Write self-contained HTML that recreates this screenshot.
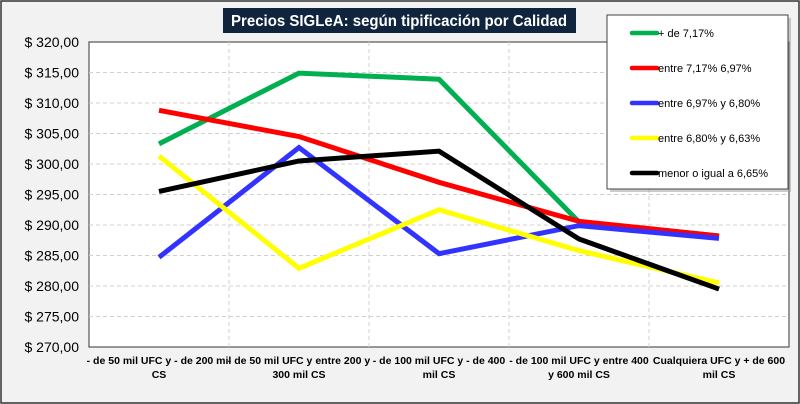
<!DOCTYPE html>
<html><head><meta charset="utf-8"><style>
body{margin:0;width:800px;height:404px;overflow:hidden;background:#fff}
svg{display:block;font-family:"Liberation Sans",sans-serif}
</style></head><body>
<svg id="c" width="800" height="404">
<rect x="1" y="1" width="798" height="402" fill="#f2f2f2" stroke="#333" stroke-width="1.5"/>
<rect x="89" y="42" width="700" height="305" fill="#fff" stroke="#555" stroke-width="1.2"/>
<g id="grid"></g><g id="axes"></g><g id="lines"></g>
<rect x="223" y="8" width="353" height="25" fill="#10243e"/>
<text x="399" y="26" text-anchor="middle" fill="#fff" font-weight="bold" font-size="16" textLength="336" lengthAdjust="spacingAndGlyphs">Precios SIGLeA: según tipificación por Calidad</text>
<rect x="610" y="18" width="181" height="174" fill="#999" opacity="0.5"/>
<rect x="607" y="15" width="181" height="174" fill="#fff" stroke="#444"/>
<g id="legend"></g>
</svg>
<script>
const categories=[["- de 50 mil UFC y - de 200 mil","CS"],["- de 50 mil UFC y entre  200 y","300 mil CS"],["- de 100 mil UFC y - de 400","mil CS"],["- de 100 mil UFC y entre  400","y 600 mil CS"],["Cualquiera UFC y + de 600","mil CS"]];
const seriesNames=["+ de 7,17%","entre 7,17% 6,97%","entre 6,97% y 6,80%","entre 6,80% y 6,63%","menor o igual a 6,65%"];
const seriesColors=["#00b050","#ff0000","#3333ff","#ffff00","#000000"];
const green=[303.3,314.9,313.9,290.5,288.2];
const red=[308.8,304.5,297.0,290.6,288.2];
const blue=[284.7,302.7,285.3,289.9,287.8];
const yellow=[301.3,282.9,292.5,285.8,280.5];
const black=[295.5,300.5,302.1,287.7,279.5];
const yTicks=[270,275,280,285,290,295,300,305,310,315,320];
const series=[green,red,blue,yellow,black];
const NS="http://www.w3.org/2000/svg";
const X0=89,W=700,Y0=347,H=305,YMIN=270,YMAX=320;
const xs=i=>X0+W/categories.length*(i+0.5);
const ys=v=>Y0-(v-YMIN)/(YMAX-YMIN)*H;
function mk(t,a,p){const e=document.createElementNS(NS,t);for(const k in a)e.setAttribute(k,a[k]);p.appendChild(e);return e;}
const g=document.getElementById('grid'),ax=document.getElementById('axes'),L=document.getElementById('lines'),lg=document.getElementById('legend');
yTicks.forEach(t=>{
 if(t>YMIN&&t<YMAX){const l=mk('line',{x1:X0,x2:X0+W,y1:ys(t),y2:ys(t),stroke:'#d0d0d0','stroke-dasharray':'4,3'},g);
 
 }
 const tx=mk('text',{x:79,y:ys(t)+5,'text-anchor':'end','font-size':'14',fill:'#000'},ax);tx.textContent='$ '+t+',00';
 
 
});
categories.forEach((c,i)=>{
 if(i>0){const l=mk('line',{x1:X0+W/categories.length*i,x2:X0+W/categories.length*i,y1:42,y2:Y0,stroke:'#d0d0d0','stroke-dasharray':'4,3'},g);
 
 }
 c.forEach((s,j)=>{const tx=mk('text',{x:xs(i),y:364+j*14,'text-anchor':'middle','font-size':'10.5','font-weight':'bold',fill:'#000'},ax);tx.textContent=s;
 
 });
});
series.forEach((d,k)=>{
 const p=mk('polyline',{points:d.map((v,i)=>xs(i)+','+ys(v)).join(' '),fill:'none',stroke:seriesColors[k],'stroke-width':5,'stroke-linejoin':'miter'},L);
 
 
 const y=33+k*35;
 const l=mk('line',{x1:632,x2:657,y1:y,y2:y,stroke:seriesColors[k],'stroke-width':4.5,'stroke-linecap':'round'},lg);
 
 
 const t=mk('text',{x:658,y:y+4,'font-size':'11',fill:'#000'},lg);t.textContent=seriesNames[k];
 
 
});
</script>
</body></html>
